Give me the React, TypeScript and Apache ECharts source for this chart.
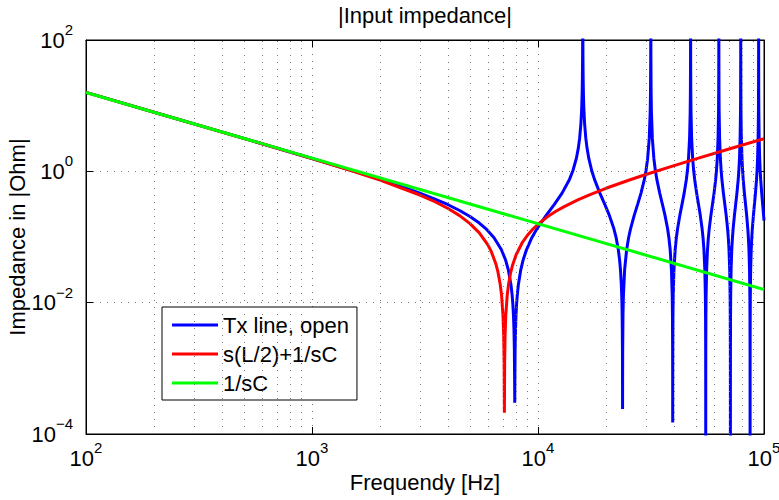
import React, { useEffect, useRef } from "react";
import * as echarts from "echarts";

const FONT = "'Liberation Sans', Arial, Helvetica, sans-serif";

const chartTitle = "|Input impedance|";
const xTitle = "Frequendy [Hz]";
const yTitle = "Impedance in |Ohm|";
const seriesNames = ["Tx line, open", "s(L/2)+1/sC", "1/sC"];

// Minor vertical grid lines (Hz)
const minorGridX = [
  200, 300, 400, 500, 600, 700, 800, 900,
  2000, 3000, 4000, 5000, 6000, 7000, 8000, 9000,
  20000, 30000, 40000, 50000, 60000, 70000, 80000, 90000,
];

// [frequency Hz, |Z| Ohm]
const txLine: [number, number][] = [
  [100, 15.91], [200, 7.952], [500, 3.172], [1000, 1.57], [1500, 1.029], [2000, 0.7532],
  [2500, 0.5831], [3000, 0.4658], [3500, 0.3786], [4000, 0.3099], [4500, 0.2535], [5000, 0.2055],
  [5500, 0.16325], [5890, 0.13325], [6390, 0.0975], [6890, 0.0639], [7190, 0.04444],
  [7390, 0.03164], [7590, 0.018944], [7690, 0.012621], [7740, 0.009463], [7790, 0.00631],
  [7830, 0.003784], [7860, 0.001892], [7880, 0.000631], [7890, 0.0003],
  [7900, 0.000631], [7920, 0.001892], [7950, 0.003784], [7990, 0.00631], [8040, 0.009463],
  [8090, 0.012621], [8190, 0.018944], [8390, 0.03164], [8590, 0.04444], [8890, 0.0639],
  [9390, 0.0975], [9890, 0.13325], [10890, 0.21546], [11835, 0.3168],
  [12780, 0.4658], [13780, 0.7532], [14280, 1.029], [14780, 1.57], [15080, 2.2585],
  [15280, 3.172], [15480, 5.298], [15580, 7.952], [15630, 10.605], [15680, 15.91],
  [15720, 26.52], [15750, 53.04], [15770, 159.2], [15780, 1000],
  [15790, 159.2], [15810, 53.04], [15840, 26.52], [15880, 15.91], [15930, 10.605],
  [15980, 7.952], [16080, 5.298], [16280, 3.172], [16480, 2.2585], [16780, 1.57],
  [17280, 1.029], [17780, 0.7532], [18780, 0.4658], [19725, 0.3168],
  [20670, 0.21546], [21670, 0.13325], [22170, 0.0975], [22670, 0.0639], [22970, 0.04444],
  [23170, 0.03164], [23370, 0.018944], [23470, 0.012621], [23520, 0.009463], [23570, 0.00631],
  [23610, 0.003784], [23640, 0.001892], [23660, 0.000631], [23670, 0.00024],
  [23680, 0.000631], [23700, 0.001892], [23770, 0.00631], [23870, 0.012621], [24170, 0.03164],
  [24670, 0.0639], [25170, 0.0975], [25670, 0.13325], [26670, 0.21546], [27615, 0.3168],
  [28560, 0.4658], [29560, 0.7532], [30060, 1.029], [30560, 1.57], [31060, 3.172],
  [31360, 7.952], [31460, 15.91], [31530, 53.04], [31550, 159.2], [31560, 1000],
  [31570, 159.2], [31590, 53.04], [31660, 15.91], [31760, 7.952], [32060, 3.172],
  [32560, 1.57], [33060, 1.029], [33560, 0.7532], [34560, 0.4658], [35505, 0.3168],
  [36450, 0.21546], [37450, 0.13325], [37950, 0.0975], [38450, 0.0639], [38950, 0.03164],
  [39250, 0.012621], [39350, 0.00631], [39420, 0.001892], [39440, 0.000631], [39450, 0.00015],
  [39460, 0.000631], [39480, 0.001892], [39550, 0.00631], [39650, 0.012621], [39950, 0.03164],
  [40450, 0.0639], [40950, 0.0975], [41450, 0.13325], [42450, 0.21546], [43395, 0.3168],
  [44340, 0.4658], [45340, 0.7532], [45840, 1.029], [46340, 1.57], [46840, 3.172],
  [47140, 7.952], [47240, 15.91], [47310, 53.04], [47330, 159.2], [47340, 1000],
  [47350, 159.2], [47370, 53.04], [47440, 15.91], [47540, 7.952], [47840, 3.172],
  [48340, 1.57], [48840, 1.029], [49340, 0.7532], [50340, 0.4658], [51285, 0.3168],
  [52230, 0.21546], [53230, 0.13325], [53730, 0.0975], [54230, 0.0639], [54730, 0.03164],
  [55030, 0.012621], [55130, 0.00631], [55200, 0.001892], [55220, 0.000631], [55230, 0.00005],
  [55240, 0.000631], [55260, 0.001892], [55330, 0.00631], [55430, 0.012621], [55730, 0.03164],
  [56230, 0.0639], [56730, 0.0975], [57230, 0.13325], [58230, 0.21546], [59175, 0.3168],
  [60120, 0.4658], [61120, 0.7532], [61620, 1.029], [62120, 1.57], [62620, 3.172],
  [62920, 7.952], [63020, 15.91], [63090, 53.04], [63110, 159.2], [63120, 1000],
  [63130, 159.2], [63150, 53.04], [63220, 15.91], [63320, 7.952], [63620, 3.172],
  [64120, 1.57], [64620, 1.029], [65120, 0.7532], [66120, 0.4658], [67065, 0.3168],
  [68010, 0.21546], [69010, 0.13325], [69510, 0.0975], [70010, 0.0639], [70510, 0.03164],
  [70810, 0.012621], [70910, 0.00631], [70980, 0.001892], [71000, 0.000631], [71010, 0.00005],
  [71020, 0.000631], [71040, 0.001892], [71110, 0.00631], [71210, 0.012621], [71510, 0.03164],
  [72010, 0.0639], [72510, 0.0975], [73010, 0.13325], [74010, 0.21546], [74955, 0.3168],
  [75900, 0.4658], [76900, 0.7532], [77400, 1.029], [77900, 1.57], [78400, 3.172],
  [78700, 7.952], [78800, 15.91], [78870, 53.04], [78890, 159.2], [78900, 1000],
  [78910, 159.2], [78930, 53.04], [79000, 15.91], [79100, 7.952], [79400, 3.172],
  [79900, 1.57], [80400, 1.029], [80900, 0.7532], [81900, 0.4658], [82845, 0.3168],
  [83790, 0.21546], [84790, 0.13325], [85290, 0.0975], [85790, 0.0639], [86290, 0.03164],
  [86590, 0.012621], [86690, 0.00631], [86760, 0.001892], [86780, 0.000631], [86790, 0.00005],
  [86800, 0.000631], [86820, 0.001892], [86890, 0.00631], [86990, 0.012621], [87290, 0.03164],
  [87790, 0.0639], [88290, 0.0975], [88790, 0.13325], [89790, 0.21546], [90735, 0.3168],
  [91680, 0.4658], [92680, 0.7532], [93180, 1.029], [93680, 1.57], [94180, 3.172],
  [94480, 7.952], [94580, 15.91], [94650, 53.04], [94670, 159.2], [94680, 1000],
  [94690, 159.2], [94710, 53.04], [94780, 15.91], [94880, 7.952], [95180, 3.172],
  [95680, 1.57], [96180, 1.029], [96680, 0.7532], [97680, 0.4658], [98625, 0.3168],
  [99570, 0.21546], [100000, 0.1779],
];

const lumpedLC: [number, number][] = [
  [100, 15.91], [200, 7.95], [500, 3.167], [1000, 1.56], [1500, 1.014], [2000, 0.733],
  [3000, 0.436], [3500, 0.3442], [4000, 0.272], [4500, 0.2116], [5000, 0.16], [5500, 0.1158],
  [6000, 0.0759], [6200, 0.061], [6500, 0.0396], [6650, 0.0294], [6800, 0.0193], [6900, 0.0129],
  [7000, 0.0064], [7050, 0.00317], [7080, 0.00127], [7100, 0.00021], [7120, 0.00125],
  [7150, 0.00314], [7200, 0.0063], [7300, 0.01245], [7400, 0.0185], [7550, 0.02756],
  [7700, 0.0364], [8000, 0.0537], [8500, 0.0811], [9000, 0.1073], [9500, 0.1324],
  [10000, 0.1565], [11000, 0.2026], [12000, 0.2462], [13000, 0.288], [15000, 0.3675],
  [17000, 0.4431], [20000, 0.552], [25000, 0.7256], [30000, 0.894], [40000, 1.223],
  [50000, 1.547], [70000, 2.187], [100000, 3.141],
];

const capOnly: [number, number][] = [
  [100, 15.9], [100000, 0.0159],
];

const dotted = { color: "#7a7a7a", type: [1, 6] as number[], width: 1 };

function expLabel(value: number) {
  const e = Math.round(Math.log10(value));
  const s = e < 0 ? "\u2212" + Math.abs(e) : String(e);
  return "{b|10}{s|" + s + "}";
}

const richLbl = {
  b: { fontSize: 22, lineHeight: 36, fontFamily: FONT, color: "#000", verticalAlign: "middle" },
  s: { fontSize: 15, lineHeight: 15, fontFamily: FONT, color: "#000", verticalAlign: "top" },
};

const axisCommon = {
  axisLine: { show: true, lineStyle: { color: "#000", width: 1 } },
  axisTick: { show: true, inside: true, length: 7, lineStyle: { color: "#000" } },
};

export default function App() {
  const ref = useRef<HTMLDivElement>(null);
  useEffect(() => {
    if (!ref.current) return;
    const chart = echarts.init(ref.current, null, { renderer: "svg" });
    const option: any = {
      animation: false,
      backgroundColor: "#fff",
      textStyle: { fontFamily: FONT },
      grid: {
        left: 86, right: 15, top: 40, bottom: 66,
        containLabel: false, outerBoundsMode: "none",
        show: true, borderColor: "#000", borderWidth: 1, backgroundColor: "transparent",
      },
      legend: {
        data: seriesNames,
        orient: "vertical",
        left: 162, top: 307,
        padding: [7, 8, 6, 10],
        icon: "rect",
        itemWidth: 46, itemHeight: 3, itemGap: 7,
        backgroundColor: "#fff", borderColor: "#000", borderWidth: 1,
        textStyle: { fontSize: 22, lineHeight: 22, color: "#000", fontFamily: FONT },
        selectedMode: false,
      },
      xAxis: [
        {
          type: "log", logBase: 10, min: 100, max: 100000, position: "bottom",
          name: xTitle, nameLocation: "middle", nameGap: 37, nameMoveOverlap: false,
          nameTextStyle: { fontSize: 22, color: "#000", fontFamily: FONT },
          ...axisCommon,
          splitLine: { show: true, lineStyle: dotted },
          axisLabel: { formatter: expLabel, rich: richLbl, margin: 6 },
        },
        {
          type: "log", logBase: 10, min: 100, max: 100000, position: "top",
          name: chartTitle, nameLocation: "middle", nameGap: 14, nameMoveOverlap: false,
          nameTextStyle: { fontSize: 22, color: "#000", fontFamily: FONT },
          ...axisCommon,
          splitLine: { show: false },
          axisLabel: { show: false },
        },
      ],
      yAxis: [
        {
          type: "log", logBase: 100, min: 0.0001, max: 100, position: "left",
          name: yTitle, nameLocation: "middle", nameGap: 58, nameMoveOverlap: false,
          nameTextStyle: { fontSize: 22, color: "#000", fontFamily: FONT },
          ...axisCommon,
          splitLine: { show: true, lineStyle: dotted },
          axisLabel: { formatter: expLabel, rich: richLbl, margin: 13 },
        },
        {
          type: "log", logBase: 100, min: 0.0001, max: 100, position: "right",
          ...axisCommon,
          splitLine: { show: false },
          axisLabel: { show: false },
        },
      ],
      series: [
        {
          type: "line", name: "_grid", data: [], z: 1, silent: true,
          markLine: {
            silent: true, symbol: ["none", "none"], animation: false,
            label: { show: false }, lineStyle: dotted,
            emphasis: { disabled: true },
            data: minorGridX.map((v) => ({ xAxis: v })),
          },
        },
        {
          type: "line", name: seriesNames[0], data: txLine, symbol: "none", z: 3,
          lineStyle: { color: "#0000ff", width: 3 }, itemStyle: { color: "#0000ff" },
          clip: true,
        },
        {
          type: "line", name: seriesNames[1], data: lumpedLC, symbol: "none", z: 4,
          lineStyle: { color: "#ff0000", width: 3 }, itemStyle: { color: "#ff0000" },
          clip: true,
        },
        {
          type: "line", name: seriesNames[2], data: capOnly, symbol: "none", z: 5,
          lineStyle: { color: "#00ff00", width: 3 }, itemStyle: { color: "#00ff00" },
          clip: true,
        },
      ],
    };
    chart.setOption(option);
    return () => chart.dispose();
  }, []);
  return (
    <div
      ref={ref}
      style={{ position: "fixed", left: 0, top: 0, width: 779, height: 500, background: "#fff" }}
    />
  );
}
